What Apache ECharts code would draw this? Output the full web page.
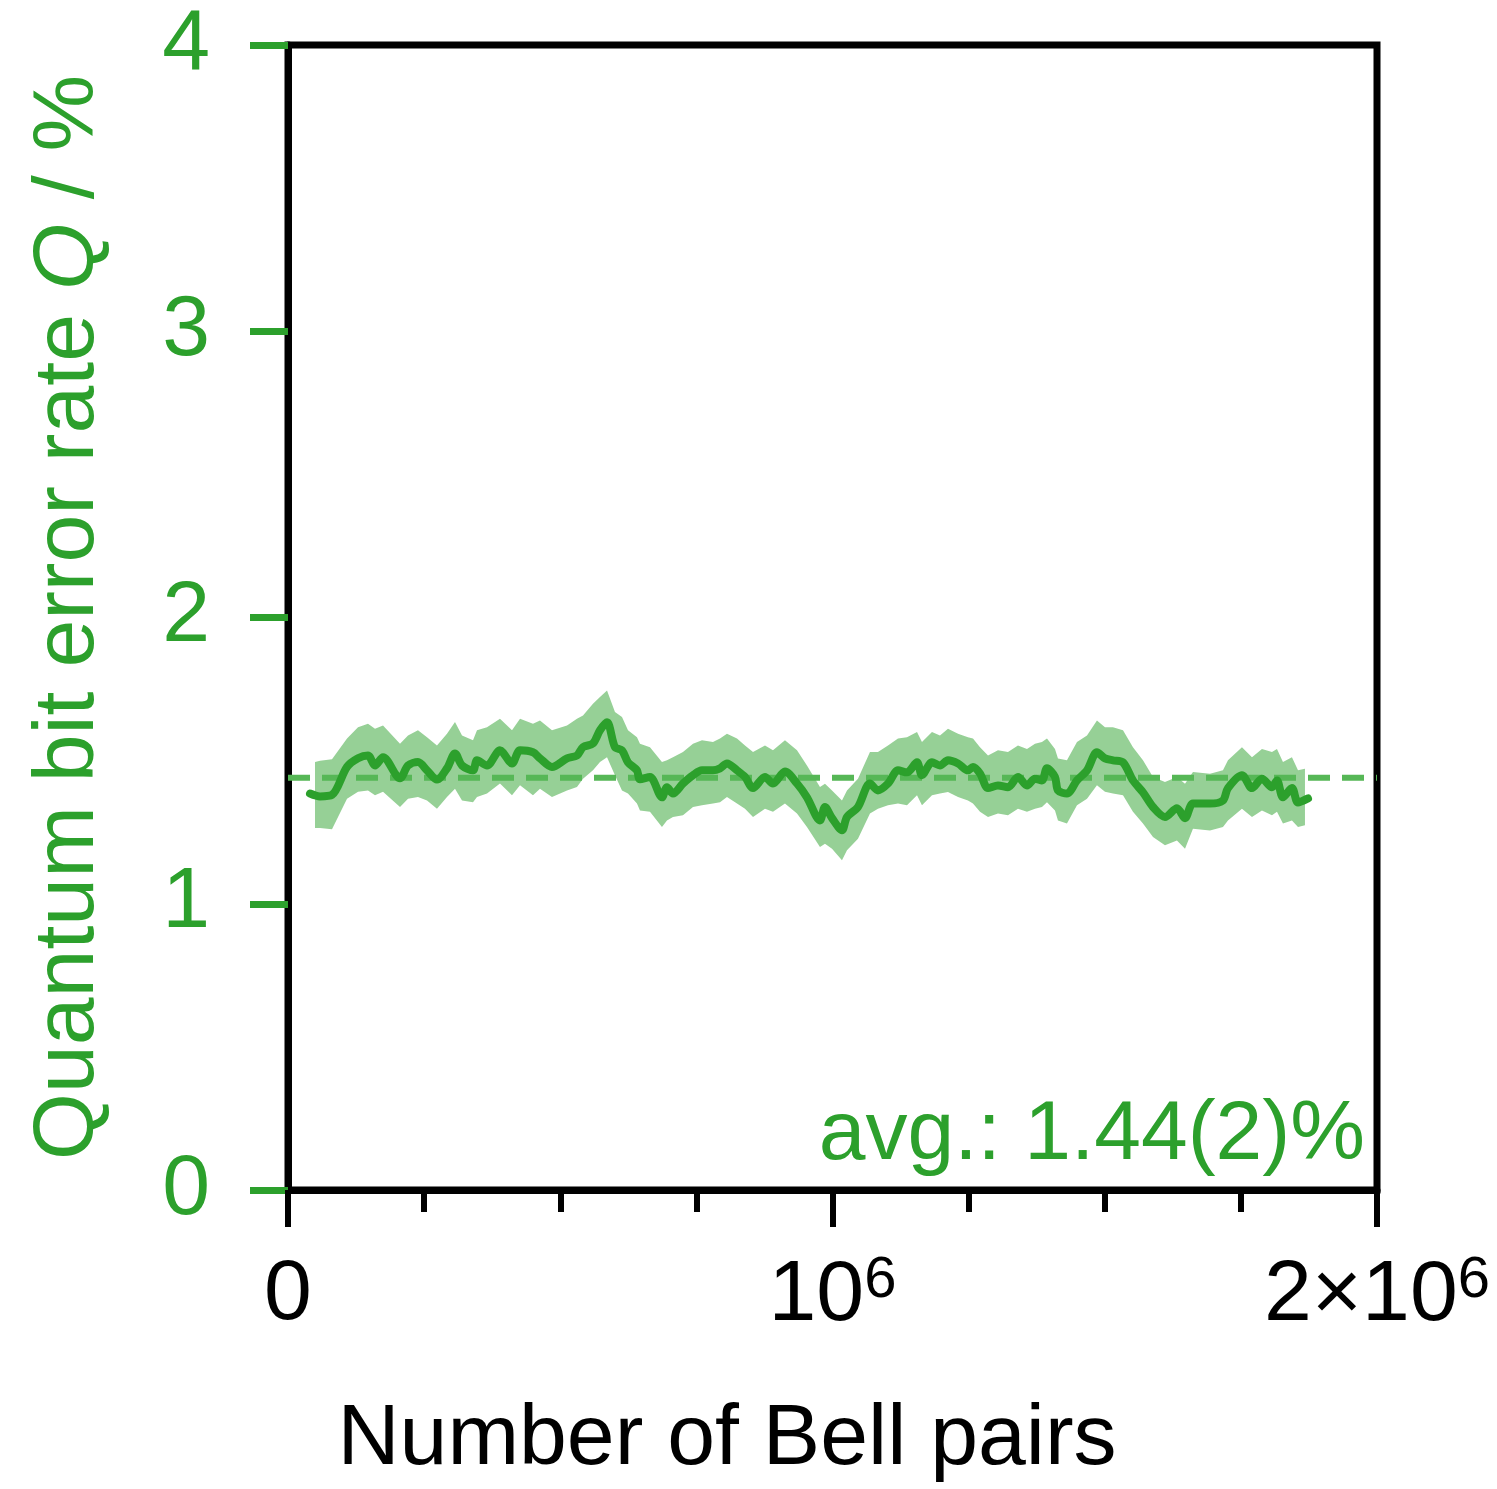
<!DOCTYPE html>
<html>
<head>
<meta charset="utf-8">
<script src="https://cdn.jsdelivr.net/npm/echarts@6/dist/echarts.min.js"></script>
<style>html,body{margin:0;padding:0;background:#fff}#c{width:1497px;height:1489px}</style>
</head>
<body>
<div id="c"></div>
<script>
// Number of Bell pairs (x) and running QBER (%) of the central line
const pairs = [40400,58800,80800,108400,128600,146900,159800,174500,205700,220400,238700,255300,273600,292000,306700,319600,339800,347100,365500,389300,411400,426100,449900,462800,484800,512400,530700,541800,560100,573000,585900,600500,613400,624400,640900,646400,664800,686800,696000,707000,725400,743800,760300,780500,793400,806200,824600,839300,854000,876000,890700,912700,934800,953100,977000,986200,999100,1017400,1026600,1046800,1068800,1083500,1101900,1120300,1136800,1155200,1164300,1182700,1197400,1212100,1230500,1248800,1258000,1270900,1285600,1303900,1322300,1340600,1357200,1371900,1384700,1393900,1408600,1414100,1430600,1449000,1467400,1485700,1500400,1515100,1533500,1551800,1570200,1588600,1610600,1632600,1647400,1662000,1693300,1717100,1726300,1752000,1770400,1788700,1807100,1816300,1827300,1843800,1854900,1873300];
const qber = [1.385,1.375,1.38,1.478,1.508,1.518,1.483,1.512,1.438,1.483,1.495,1.466,1.434,1.473,1.525,1.483,1.466,1.501,1.483,1.536,1.490,1.536,1.529,1.508,1.478,1.508,1.518,1.547,1.560,1.606,1.634,1.547,1.536,1.494,1.466,1.435,1.443,1.372,1.407,1.385,1.420,1.449,1.466,1.466,1.473,1.490,1.466,1.443,1.404,1.443,1.420,1.462,1.420,1.372,1.291,1.338,1.299,1.257,1.303,1.338,1.420,1.396,1.420,1.466,1.459,1.494,1.449,1.494,1.483,1.501,1.490,1.466,1.478,1.455,1.404,1.413,1.407,1.443,1.413,1.437,1.431,1.473,1.443,1.396,1.385,1.431,1.466,1.529,1.508,1.501,1.494,1.431,1.389,1.338,1.303,1.334,1.299,1.350,1.350,1.361,1.404,1.449,1.404,1.437,1.407,1.431,1.372,1.404,1.354,1.368];

// Uncertainty band (upper / lower edge, %)
const bandX = [49600,58800,80800,108400,128600,146900,159800,174500,205700,220400,238700,255300,273600,292000,306700,319600,339800,347100,365500,389300,411400,426100,449900,462800,484800,512400,530700,541800,560100,573000,585900,600500,613400,624400,640900,646400,664800,686800,696000,707000,725400,743800,760300,780500,793400,806200,824600,839300,854000,876000,890700,912700,934800,953100,977000,986200,999100,1017400,1026600,1046800,1068800,1083500,1101900,1120300,1136800,1155200,1164300,1182700,1197400,1212100,1230500,1248800,1258000,1270900,1285600,1303900,1322300,1340600,1357200,1371900,1384700,1393900,1408600,1414100,1430600,1449000,1467400,1485700,1500400,1515100,1533500,1551800,1570200,1588600,1610600,1632600,1647400,1662000,1693300,1717100,1726300,1752000,1770400,1788700,1807100,1816300,1827300,1843800,1854900,1867700];
const bandHi = [1.495,1.50,1.505,1.577,1.617,1.629,1.611,1.623,1.559,1.588,1.606,1.582,1.553,1.594,1.635,1.588,1.571,1.606,1.617,1.646,1.606,1.646,1.629,1.640,1.606,1.623,1.646,1.658,1.699,1.722,1.745,1.670,1.652,1.606,1.582,1.559,1.547,1.495,1.501,1.512,1.530,1.559,1.571,1.565,1.577,1.594,1.577,1.553,1.530,1.553,1.536,1.571,1.536,1.483,1.408,1.419,1.396,1.361,1.396,1.437,1.530,1.530,1.553,1.577,1.582,1.600,1.565,1.600,1.588,1.611,1.594,1.582,1.577,1.547,1.518,1.536,1.530,1.553,1.541,1.559,1.565,1.577,1.541,1.507,1.501,1.565,1.588,1.640,1.617,1.617,1.606,1.547,1.501,1.443,1.425,1.443,1.419,1.460,1.454,1.466,1.501,1.547,1.512,1.541,1.530,1.541,1.495,1.512,1.466,1.472];
const bandLo = [1.265,1.265,1.26,1.367,1.391,1.396,1.379,1.391,1.338,1.367,1.373,1.361,1.332,1.373,1.402,1.361,1.355,1.373,1.385,1.420,1.379,1.414,1.379,1.402,1.373,1.396,1.408,1.437,1.466,1.495,1.512,1.449,1.396,1.385,1.350,1.326,1.321,1.268,1.291,1.303,1.309,1.338,1.344,1.350,1.355,1.373,1.350,1.332,1.303,1.332,1.321,1.350,1.315,1.268,1.198,1.210,1.192,1.152,1.187,1.227,1.315,1.332,1.344,1.350,1.344,1.379,1.344,1.379,1.385,1.390,1.373,1.361,1.350,1.321,1.303,1.315,1.309,1.332,1.321,1.332,1.338,1.355,1.326,1.291,1.280,1.344,1.367,1.414,1.391,1.385,1.379,1.321,1.280,1.233,1.204,1.221,1.192,1.262,1.256,1.268,1.291,1.332,1.303,1.326,1.309,1.321,1.280,1.291,1.268,1.274];

const avgQ = 1.44;
const avgLabel = 'avg.: 1.44(2)%';
const xTickLabels = {0: '0', 1000000: '10{sup|6}', 2000000: '2×10{sup|6}'};
const yTitle = 'Quantum bit error rate {i|Q} / %';
const xTitle = 'Number of Bell pairs';

const GREEN = '#2ca02c';
const FONT = '"Liberation Sans", Arial, Helvetica, sans-serif';

const chart = echarts.init(document.getElementById('c'), null, {renderer: 'canvas'});
chart.setOption({
  animation: false,
  backgroundColor: '#fff',
  textStyle: {fontFamily: FONT},
  grid: {left: 288, right: 120, top: 45, bottom: 299, containLabel: false, outerBoundsMode: 'none',
         show: true, borderColor: '#000', borderWidth: 7, backgroundColor: 'transparent'},
  xAxis: {
    type: 'value', min: 0, max: 2000000, interval: 1000000,
    axisLine: {show: true, lineStyle: {color: '#000', width: 7}},
    axisTick: {show: true, length: 37, lineStyle: {color: '#000', width: 6}},
    minorTick: {show: true, splitNumber: 4, length: 22, lineStyle: {color: '#000', width: 6}},
    splitLine: {show: false},
    axisLabel: {
      margin: 62, color: '#000', fontSize: 86, fontFamily: FONT,
      formatter: v => xTickLabels[v] !== undefined ? xTickLabels[v] : '',
      rich: {sup: {fontSize: 58, fontFamily: FONT, color: '#000', verticalAlign: 'top', padding: [0, 0, 30, 0]}}
    }
  },
  yAxis: {
    type: 'value', min: 0, max: 4, interval: 1,
    axisLine: {show: true, lineStyle: {color: '#000', width: 7}},
    axisTick: {show: true, length: 38, lineStyle: {color: GREEN, width: 7}},
    splitLine: {show: false},
    axisLabel: {margin: 78, color: GREEN, fontSize: 86, fontFamily: FONT},
    name: yTitle, nameLocation: 'middle', nameGap: 176, nameRotate: 90,
    nameTextStyle: {color: GREEN, fontSize: 86, fontFamily: FONT,
      rich: {i: {fontStyle: 'italic', color: GREEN, fontSize: 86, fontFamily: FONT}}}
  },
  series: [
    {
      type: 'custom', silent: true, z: 1,
      data: [[bandX[0], bandLo[0]]],
      renderItem: (params, api) => {
        const pts = [];
        for (let i = 0; i < bandX.length; i++) pts.push(api.coord([bandX[i], bandHi[i]]));
        for (let i = bandX.length - 1; i >= 0; i--) pts.push(api.coord([bandX[i], bandLo[i]]));
        return {type: 'polygon', shape: {points: pts}, style: {fill: '#96d096', stroke: null}};
      }
    },
    {
      type: 'line', z: 3, showSymbol: false, smooth: 0.3, silent: true,
      data: pairs.map((x, i) => [x, qber[i]]),
      lineStyle: {color: GREEN, width: 8, cap: 'round', join: 'round'}
    },
    {
      type: 'line', z: 2, showSymbol: false, silent: true,
      data: [[0, avgQ], [2000000, avgQ]],
      lineStyle: {color: '#56b756', width: 6, type: [22, 12]}
    }
  ],
  graphic: [
    {type: 'text', x: 1365, y: 1136, z: 10,
     style: {text: avgLabel, fill: GREEN, fontSize: 84, fontFamily: FONT, align: 'right', verticalAlign: 'middle'}},
    {type: 'text', x: 727, y: 1440, z: 10,
     style: {text: xTitle, fill: '#000', fontSize: 86, fontFamily: FONT, align: 'center', verticalAlign: 'middle'}}
  ]
});
</script>
</body>
</html>
